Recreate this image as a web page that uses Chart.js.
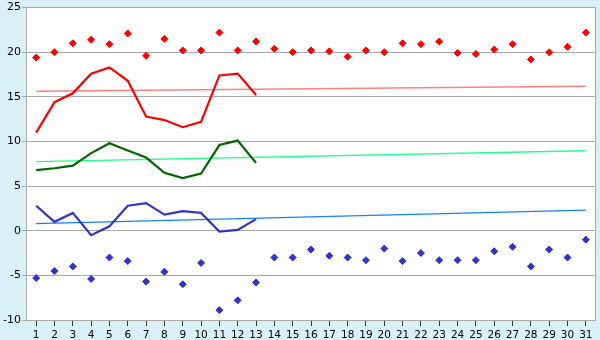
<!DOCTYPE html>
<html>
<head>
<meta charset="utf-8">
<script src="https://cdn.jsdelivr.net/npm/chart.js@4/dist/chart.umd.min.js"></script>
<style>
html,body{margin:0;padding:0;background:#d9f0f7;}
#wrap{width:600px;height:340px;position:relative;}
</style>
</head>
<body>
<div id="wrap"><canvas id="c" width="600" height="340"></canvas></div>
<script>
const days = ["1","2","3","4","5","6","7","8","9","10","11","12","13","14","15","16","17","18","19","20","21","22","23","24","25","26","27","28","29","30","31"];
const yTicks = [-10,-5,0,5,10,15,20,25];

const recordMax = [19.4,20.0,21.0,21.4,20.9,22.1,19.6,21.5,20.2,20.2,22.2,20.2,21.2,20.4,20.0,20.2,20.1,19.5,20.2,20.0,21.0,20.9,21.2,19.9,19.8,20.3,20.9,19.2,20.0,20.6,22.2];
const recordMin = [-5.3,-4.5,-4.0,-5.4,-3.0,-3.4,-5.7,-4.6,-6.0,-3.6,-8.9,-7.8,-5.8,-3.0,-3.0,-2.1,-2.8,-3.0,-3.3,-2.0,-3.4,-2.5,-3.3,-3.3,-3.3,-2.3,-1.8,-4.0,-2.1,-3.0,-1.0];

const tempMax  = [11.0,14.4,15.4,17.6,18.3,16.8,12.8,12.4,11.6,12.2,17.4,17.6,15.2];
const tempMean = [6.8,7.0,7.3,8.7,9.8,9.0,8.2,6.5,5.9,6.4,9.6,10.1,7.6];
const tempMin  = [2.8,1.0,2.0,-0.5,0.5,2.8,3.1,1.8,2.2,2.0,-0.1,0.1,1.3];

// trend lines: value at day 1 and at day 31
const trendMax  = [15.63,16.19];
const trendMean = [7.74,8.96];
const trendMin  = [0.8,2.3];

function endpoints(pair){
  const a = days.map(()=>null);
  a[0] = pair[0];
  a[days.length-1] = pair[1];
  return a;
}

const frame = {
  id:'frame',
  beforeDraw(chart){
    const {ctx, chartArea:a} = chart;
    ctx.save();
    ctx.fillStyle = '#d9f0f7';
    ctx.fillRect(0,0,chart.width,chart.height);
    ctx.fillStyle = '#ffffff';
    ctx.fillRect(a.left,a.top,a.right-a.left,a.bottom-a.top);
    ctx.restore();
  },
  afterDraw(chart){
    const {ctx, chartArea:a} = chart;
    ctx.save();
    ctx.strokeStyle = '#aaaaaa';
    ctx.lineWidth = 1;
    ctx.strokeRect(Math.round(a.left)-0.5,Math.round(a.top)-0.5,Math.round(a.right-a.left)+1,Math.round(a.bottom-a.top)+1);
    ctx.restore();
  }
};

const diamond = (data,color,order)=>({
  data, showLine:false, pointStyle:'rectRot', pointRadius:3.5,
  pointBackgroundColor:color, pointBorderColor:color, pointBorderWidth:1, order
});
const line = (data,color,width,order,span)=>({
  data, borderColor:color, borderWidth:width, pointRadius:0, fill:false,
  tension:0, spanGaps:!!span, order
});

new Chart(document.getElementById('c'),{
  type:'line',
  data:{
    labels:days,
    datasets:[
      line(endpoints(trendMax),'#ff8080',1.3,5,true),
      line(endpoints(trendMean),'#22ff88',1.3,5,true),
      line(endpoints(trendMin),'#1580ff',1.3,5,true),
      line(tempMax,'#ff0000',2.2,3),
      line(tempMean,'#006600',2.2,3),
      line(tempMin,'#3333cc',2.2,3),
      diamond(recordMax,'#ff0000',1),
      diamond(recordMin,'#3333cc',1)
    ]
  },
  options:{
    responsive:false,
    animation:false,
    events:[],
    layout:{padding:{top:5,right:4,left:0,bottom:0}},
    plugins:{legend:{display:false},tooltip:{enabled:false}},
    scales:{
      x:{
        type:'category',
        offset:true,
        grid:{drawOnChartArea:false,drawTicks:true,tickLength:6,color:'#333333',offset:false},
        border:{display:false},
        ticks:{color:'#000',font:{family:'DejaVu Sans',size:10.5},padding:3,maxRotation:0,autoSkip:false},
        afterFit(s){s.height=20;}
      },
      y:{
        min:-10,max:25,
        afterBuildTicks(s){s.ticks = yTicks.map(v=>({value:v}));},
        grid:{color:'#aaaaaa',lineWidth:1,drawTicks:true,tickLength:5},
        border:{display:false},
        ticks:{color:'#000',font:{family:'DejaVu Sans',size:11},padding:1},
        afterFit(s){s.width=27;}
      }
    }
  },
  plugins:[frame]
});
</script>
</body>
</html>
